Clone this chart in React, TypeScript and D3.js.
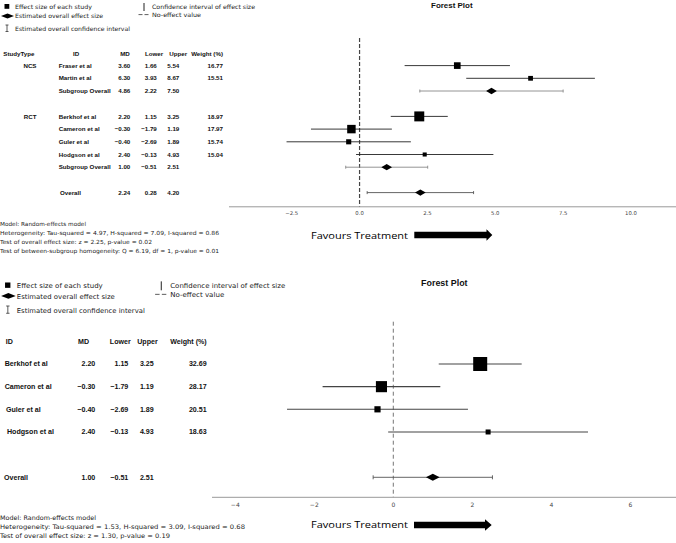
import React from "react";
import * as d3 from "d3";

// ---------- Top panel data ----------
const topStudies = ["Fraser et al", "Martin et al", "Berkhof et al", "Cameron et al", "Guler et al", "Hodgson et al"];
const topGroups = ["NCS", "NCS", "RCT", "RCT", "RCT", "RCT"];
const topMD = [3.6, 6.3, 2.2, -0.3, -0.4, 2.4];
const topLower = [1.66, 3.93, 1.15, -1.79, -2.69, -0.13];
const topUpper = [5.54, 8.67, 3.25, 1.19, 1.89, 4.93];
const topWeight = [16.77, 15.51, 18.97, 17.97, 15.74, 15.04];
const subgroupNames = ["NCS", "RCT"];
const subgroupMD = [4.86, 1.0];
const subgroupLower = [2.22, -0.51];
const subgroupUpper = [7.5, 2.51];
const topOverall = [2.24, 0.28, 4.2]; // MD, lower, upper
const topTicks = [-2.5, 0, 2.5, 5, 7.5, 10];
const topNotes = [
  "Model: Random-effects model",
  "Heterogeneity: Tau-squared = 4.97, H-squared = 7.09, I-squared = 0.86",
  "Test of overall effect size: z = 2.25, p-value = 0.02",
  "Test of between-subgroup homogeneity: Q = 6.19, df = 1, p-value = 0.01",
];

// ---------- Bottom panel data ----------
const bottomStudies = ["Berkhof et al", "Cameron et al", "Guler et al", "Hodgson et al"];
const bottomMD = [2.2, -0.3, -0.4, 2.4];
const bottomLower = [1.15, -1.79, -2.69, -0.13];
const bottomUpper = [3.25, 1.19, 1.89, 4.93];
const bottomWeight = [32.69, 28.17, 20.51, 18.63];
const bottomOverall = [1.0, -0.51, 2.51];
const bottomTicks = [-4, -2, 0, 2, 4, 6];
const bottomNotes = [
  "Model: Random-effects model",
  "Heterogeneity: Tau-squared = 1.53, H-squared = 3.09, I-squared = 0.68",
  "Test of overall effect size: z = 1.30, p-value = 0.19",
];

const legendLabels = [
  "Effect size of each study",
  "Estimated overall effect size",
  "Estimated overall confidence interval",
  "Confidence interval of effect size",
  "No-effect value",
];

const NOTE_FONT = "'DejaVu Sans', sans-serif";
const TABLE_FONT = "'Liberation Sans', Arial, sans-serif";
const fmt = d3.format(".2f");

function Diamond({ cx, cy, w, h }: { cx: number; cy: number; w: number; h: number }) {
  const p = d3.path();
  p.moveTo(cx - w / 2, cy);
  p.lineTo(cx, cy - h / 2);
  p.lineTo(cx + w / 2, cy);
  p.lineTo(cx, cy + h / 2);
  p.closePath();
  return <path d={p.toString()} fill="#000" />;
}

function Arrow({ x0, x1, headStart, cy, shaftH, headH }: any) {
  const p = d3.path();
  p.moveTo(x0, cy - shaftH / 2);
  p.lineTo(headStart, cy - shaftH / 2);
  p.lineTo(headStart, cy - headH / 2);
  p.lineTo(x1, cy);
  p.lineTo(headStart, cy + headH / 2);
  p.lineTo(headStart, cy + shaftH / 2);
  p.lineTo(x0, cy + shaftH / 2);
  p.closePath();
  return <path d={p.toString()} fill="#000" />;
}

function Legend({ s, ox, oy, widths }: { s: number; ox: number; oy: number; widths: number[] }) {
  const fs = 6 * s;
  const tx = ox + 15 * s;
  const tx2 = ox + 152 * s;
  return (
    <g fontFamily={NOTE_FONT} fontSize={fs} fill="#222">
      <rect x={ox + 4.5 * s} y={oy + 4 * s} width={4.8 * s} height={4.8 * s} fill="#000" />
      <text x={tx} y={oy + 6.6 * s} dy="0.35em" textLength={widths[0]} lengthAdjust="spacingAndGlyphs">{legendLabels[0]}</text>
      <Diamond cx={ox + 7.5 * s} cy={oy + 16 * s} w={13 * s} h={5 * s} />
      <text x={tx} y={oy + 16.3 * s} dy="0.35em" textLength={widths[1]} lengthAdjust="spacingAndGlyphs">{legendLabels[1]}</text>
      <g stroke="#333" strokeWidth={0.8}>
        <line x1={ox + 7 * s} x2={ox + 7 * s} y1={oy + 25 * s} y2={oy + 31.5 * s} />
        <line x1={ox + 5.5 * s} x2={ox + 8.5 * s} y1={oy + 25 * s} y2={oy + 25 * s} />
        <line x1={ox + 5.5 * s} x2={ox + 8.5 * s} y1={oy + 31.5 * s} y2={oy + 31.5 * s} />
      </g>
      <text x={tx} y={oy + 28.8 * s} dy="0.35em" textLength={widths[2]} lengthAdjust="spacingAndGlyphs">{legendLabels[2]}</text>
      <line x1={ox + 144 * s} x2={ox + 144 * s} y1={oy + 3 * s} y2={oy + 11 * s} stroke="#222" strokeWidth={1} />
      <text x={tx2} y={oy + 6.6 * s} dy="0.35em" textLength={widths[3]} lengthAdjust="spacingAndGlyphs">{legendLabels[3]}</text>
      <line x1={ox + 138.5 * s} x2={ox + 148.5 * s} y1={oy + 14.6 * s} y2={oy + 14.6 * s} stroke="#333" strokeWidth={0.8} strokeDasharray={`${4 * s},${2 * s}`} />
      <text x={tx2} y={oy + 14.8 * s} dy="0.35em" textLength={widths[4]} lengthAdjust="spacingAndGlyphs">{legendLabels[4]}</text>
    </g>
  );
}

function TopPanel() {
  const x = d3.scaleLinear().domain([-2.5, 10]).range([291.7, 631]);
  const y = d3.scaleLinear().domain([0, 10]).range([65.6, 192.6]);
  const size = d3.scaleLinear().domain([15, 19]).range([4, 10]);

  const studyRows: number[] = [];
  const subRows: number[] = [];
  let r = 0;
  subgroupNames.forEach((g) => {
    topGroups.forEach((tg, i) => {
      if (tg === g) studyRows[i] = r++;
    });
    subRows.push(r++);
    r++; // blank row
  });
  const overallRow = r;
  const groupFirstRow = subgroupNames.map((g) => studyRows[topGroups.indexOf(g)]);
  const axisY = 206.8;
  const zeroX = x(0);

  const colMD = 130.3, colLow = 156.8, colUp = 179.3, colW = 223;
  return (
    <g>
      <Legend s={1} ox={0} oy={0} widths={[77, 88, 115, 103, 49]} />
      <text x={451.8} y={5.2} dy="0.35em" textAnchor="middle" fontFamily={TABLE_FONT} fontWeight="bold" fontSize={8} textLength={41.5} lengthAdjust="spacingAndGlyphs" fill="#111">Forest Plot</text>

      <g fontFamily={TABLE_FONT} fontWeight="bold" fontSize={6.2} fill="#111">
        <text x={3.3} y={54.3} dy="0.35em">StudyType</text>
        <text x={76} y={54.3} dy="0.35em" textAnchor="middle">ID</text>
        <text x={125} y={54.3} dy="0.35em" textAnchor="middle">MD</text>
        <text x={154} y={54.3} dy="0.35em" textAnchor="middle">Lower</text>
        <text x={178.3} y={54.3} dy="0.35em" textAnchor="middle">Upper</text>
        <text x={colW} y={54.3} dy="0.35em" textAnchor="end">Weight (%)</text>
        {subgroupNames.map((g, gi) => (
          <g key={g}>
            <text x={36.5} y={y(groupFirstRow[gi])} dy="0.35em" textAnchor="end">{g}</text>
            <text x={58.7} y={y(subRows[gi])} dy="0.35em">Subgroup Overall</text>
            <text x={colMD} y={y(subRows[gi])} dy="0.35em" textAnchor="end">{fmt(subgroupMD[gi])}</text>
            <text x={colLow} y={y(subRows[gi])} dy="0.35em" textAnchor="end">{fmt(subgroupLower[gi])}</text>
            <text x={colUp} y={y(subRows[gi])} dy="0.35em" textAnchor="end">{fmt(subgroupUpper[gi])}</text>
          </g>
        ))}
        {topStudies.map((s, i) => (
          <g key={s}>
            <text x={58.7} y={y(studyRows[i])} dy="0.35em">{s}</text>
            <text x={colMD} y={y(studyRows[i])} dy="0.35em" textAnchor="end">{fmt(topMD[i])}</text>
            <text x={colLow} y={y(studyRows[i])} dy="0.35em" textAnchor="end">{fmt(topLower[i])}</text>
            <text x={colUp} y={y(studyRows[i])} dy="0.35em" textAnchor="end">{fmt(topUpper[i])}</text>
            <text x={colW} y={y(studyRows[i])} dy="0.35em" textAnchor="end">{fmt(topWeight[i])}</text>
          </g>
        ))}
        <text x={60} y={y(overallRow)} dy="0.35em">Overall</text>
        <text x={colMD} y={y(overallRow)} dy="0.35em" textAnchor="end">{fmt(topOverall[0])}</text>
        <text x={colLow} y={y(overallRow)} dy="0.35em" textAnchor="end">{fmt(topOverall[1])}</text>
        <text x={colUp} y={y(overallRow)} dy="0.35em" textAnchor="end">{fmt(topOverall[2])}</text>
      </g>

      <line x1={zeroX} x2={zeroX} y1={38} y2={axisY} stroke="#444" strokeWidth={1.2} strokeDasharray="4,2" />

      {topStudies.map((s, i) => {
        const cy = y(studyRows[i]);
        const sz = size(topWeight[i]);
        return (
          <g key={s}>
            <line x1={x(topLower[i])} x2={x(topUpper[i])} y1={cy} y2={cy} stroke="#222" strokeWidth={0.9} />
            <rect x={x(topMD[i]) - sz / 2} y={cy - sz / 2} width={sz} height={sz} fill="#000" />
          </g>
        );
      })}
      {subgroupNames.map((g, gi) => {
        const cy = y(subRows[gi]);
        const x0 = x(subgroupLower[gi]), x1 = x(subgroupUpper[gi]);
        return (
          <g key={g}>
            <g stroke="#888" strokeWidth={0.9}>
              <line x1={x0} x2={x1} y1={cy} y2={cy} />
              <line x1={x0} x2={x0} y1={cy - 1.5} y2={cy + 1.5} />
              <line x1={x1} x2={x1} y1={cy - 1.5} y2={cy + 1.5} />
            </g>
            <Diamond cx={x(subgroupMD[gi])} cy={cy} w={10.7} h={6.3} />
          </g>
        );
      })}
      {(() => {
        const cy = y(overallRow);
        const x0 = x(topOverall[1]), x1 = x(topOverall[2]);
        return (
          <g>
            <g stroke="#555" strokeWidth={0.9}>
              <line x1={x0} x2={x1} y1={cy} y2={cy} />
              <line x1={x0} x2={x0} y1={cy - 1.5} y2={cy + 1.5} />
              <line x1={x1} x2={x1} y1={cy - 1.5} y2={cy + 1.5} />
            </g>
            <Diamond cx={x(topOverall[0])} cy={cy} w={10.7} h={6.3} />
          </g>
        );
      })()}

      <line x1={229} x2={676} y1={axisY} y2={axisY} stroke="#999" strokeWidth={1} />
      <g fontFamily={NOTE_FONT} fontSize={5.3} fill="#444" textAnchor="middle">
        {topTicks.map((t) => (
          <text key={t} x={x(t)} y={213.4} dy="0.35em">{d3.format(".1f")(t)}</text>
        ))}
      </g>

      <text x={311} y={235.3} dy="0.35em" fontFamily="'Open Sans', sans-serif" fontSize={9.8} fill="#000" textLength={97} lengthAdjust="spacingAndGlyphs">Favours Treatment</text>
      <Arrow x0={414.3} x1={492.3} headStart={486.5} cy={235} shaftH={6.4} headH={11.5} />

      <g fontFamily={NOTE_FONT} fontSize={5.6} fill="#222">
        {topNotes.map((n, i) => (
          <text key={i} x={0} y={224.3 + i * 8.9} dy="0.35em" textLength={[86, 219, 152, 219][i]} lengthAdjust="spacingAndGlyphs">{n}</text>
        ))}
      </g>
    </g>
  );
}

function BottomPanel() {
  const x = d3.scaleLinear().domain([-4, 6]).range([235.3, 630.3]);
  const y = d3.scaleLinear().domain([0, 5]).range([364, 477.3]);
  const size = d3.scaleLinear().domain([18.63, 32.69]).range([5, 14]);
  const axisY = 497.3;
  const zeroX = x(0);
  const nameX = [4.7, 4.7, 6, 7];
  const colMD = 95.3, colLow = 128.3, colUp = 153.7, colW = 206.7;
  const ov = bottomStudies.length + 1;
  return (
    <g>
      <Legend s={1.12} ox={0} oy={278} widths={[86, 98, 128, 115, 54]} />
      <text x={444.3} y={283.3} dy="0.35em" textAnchor="middle" fontFamily={TABLE_FONT} fontWeight="bold" fontSize={9} textLength={46.5} lengthAdjust="spacingAndGlyphs" fill="#111">Forest Plot</text>

      <g fontFamily={TABLE_FONT} fontWeight="bold" fontSize={7.1} fill="#111">
        <text x={5.7} y={341.7} dy="0.35em">ID</text>
        <text x={83.5} y={341.7} dy="0.35em" textAnchor="middle">MD</text>
        <text x={120.3} y={341.7} dy="0.35em" textAnchor="middle">Lower</text>
        <text x={147.5} y={341.7} dy="0.35em" textAnchor="middle">Upper</text>
        <text x={colW} y={341.7} dy="0.35em" textAnchor="end">Weight (%)</text>
        {bottomStudies.map((s, i) => (
          <g key={s}>
            <text x={nameX[i]} y={y(i)} dy="0.35em">{s}</text>
            <text x={colMD} y={y(i)} dy="0.35em" textAnchor="end">{fmt(bottomMD[i])}</text>
            <text x={colLow} y={y(i)} dy="0.35em" textAnchor="end">{fmt(bottomLower[i])}</text>
            <text x={colUp} y={y(i)} dy="0.35em" textAnchor="end">{fmt(bottomUpper[i])}</text>
            <text x={colW} y={y(i)} dy="0.35em" textAnchor="end">{fmt(bottomWeight[i])}</text>
          </g>
        ))}
        <text x={4} y={y(ov)} dy="0.35em">Overall</text>
        <text x={colMD} y={y(ov)} dy="0.35em" textAnchor="end">{fmt(bottomOverall[0])}</text>
        <text x={colLow} y={y(ov)} dy="0.35em" textAnchor="end">{fmt(bottomOverall[1])}</text>
        <text x={colUp} y={y(ov)} dy="0.35em" textAnchor="end">{fmt(bottomOverall[2])}</text>
      </g>

      <line x1={zeroX} x2={zeroX} y1={321.7} y2={axisY} stroke="#666" strokeWidth={0.9} strokeDasharray="4,3" />

      {bottomStudies.map((s, i) => {
        const cy = y(i);
        const sz = size(bottomWeight[i]);
        return (
          <g key={s}>
            <line x1={x(bottomLower[i])} x2={x(bottomUpper[i])} y1={cy} y2={cy} stroke="#444" strokeWidth={1.1} />
            <rect x={x(bottomMD[i]) - sz / 2} y={cy - sz / 2} width={sz} height={sz} fill="#000" />
          </g>
        );
      })}
      {(() => {
        const cy = y(ov);
        const x0 = x(bottomOverall[1]), x1 = x(bottomOverall[2]);
        return (
          <g>
            <g stroke="#555" strokeWidth={0.9}>
              <line x1={x0} x2={x1} y1={cy} y2={cy} />
              <line x1={x0} x2={x0} y1={cy - 2} y2={cy + 2} />
              <line x1={x1} x2={x1} y1={cy - 2} y2={cy + 2} />
            </g>
            <Diamond cx={x(bottomOverall[0])} cy={cy} w={13.7} h={7} />
          </g>
        );
      })()}

      <line x1={212} x2={676} y1={axisY} y2={axisY} stroke="#999" strokeWidth={1} />
      <g fontFamily={NOTE_FONT} fontSize={6} fill="#444" textAnchor="middle">
        {bottomTicks.map((t) => (
          <text key={t} x={x(t)} y={504.5} dy="0.35em">{t < 0 ? "\u2212" + Math.abs(t) : String(t)}</text>
        ))}
      </g>

      <text x={311} y={525} dy="0.35em" fontFamily="'Open Sans', sans-serif" fontSize={9.8} fill="#000" textLength={97} lengthAdjust="spacingAndGlyphs">Favours Treatment</text>
      <Arrow x0={414} x1={491.7} headStart={485} cy={525} shaftH={6.4} headH={11.3} />

      <g fontFamily={NOTE_FONT} fontSize={6.2} fill="#222">
        {bottomNotes.map((n, i) => (
          <text key={i} x={0} y={517.6 + i * 9.3} dy="0.35em" textLength={[96, 245, 170][i]} lengthAdjust="spacingAndGlyphs">{n}</text>
        ))}
      </g>
    </g>
  );
}

export default function App() {
  return (
    <svg
      width={676}
      height={543}
      viewBox="0 0 676 543"
      style={{ position: "absolute", left: 0, top: 0, background: "#fff" }}
    >
      <rect width={676} height={543} fill="#fff" />
      <TopPanel />
      <BottomPanel />
    </svg>
  );
}
